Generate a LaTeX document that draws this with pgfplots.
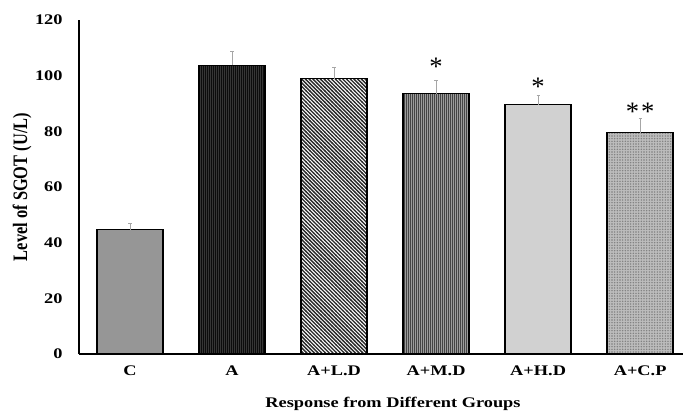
\documentclass[border=0pt]{standalone}
\usepackage{graphicx}
\usepackage{pgfplots}
\pgfplotsset{compat=1.18}
\usepackage{fontspec}
\setmainfont{Liberation Serif}
\usetikzlibrary{patterns}

\newcommand\hs[1]{\scalebox{1.25}[1]{#1}}

\pgfdeclarepatternformonly{fnw}{\pgfqpoint{-1pt}{-1pt}}{\pgfqpoint{3.8pt}{3.8pt}}{\pgfqpoint{2.8pt}{2.8pt}}{%
  \pgfsetlinewidth{1pt}%
  \pgfpathmoveto{\pgfqpoint{-0.2pt}{3pt}}%
  \pgfpathlineto{\pgfqpoint{3pt}{-0.2pt}}%
  \pgfusepath{stroke}}
\pgfdeclarepatternformonly{fvert}{\pgfqpoint{-0.5pt}{-0.5pt}}{\pgfqpoint{2pt}{2pt}}{\pgfqpoint{1.5pt}{1.5pt}}{%
  \pgfsetlinewidth{0.7pt}%
  \pgfpathmoveto{\pgfqpoint{0.4pt}{-0.2pt}}%
  \pgfpathlineto{\pgfqpoint{0.4pt}{1.7pt}}%
  \pgfusepath{stroke}}
\pgfdeclarepatternformonly{fdots}{\pgfqpoint{-0.5pt}{-0.5pt}}{\pgfqpoint{2pt}{2pt}}{\pgfqpoint{1.5pt}{1.5pt}}{%
  \pgfpathcircle{\pgfqpoint{0.75pt}{0.75pt}}{0.4pt}%
  \pgfusepath{fill}}
\pgfdeclarepatternformonly{gdots}{\pgfqpoint{-0.5pt}{-0.5pt}}{\pgfqpoint{2.5pt}{2.5pt}}{\pgfqpoint{2pt}{2pt}}{%
  \pgfpathcircle{\pgfqpoint{1pt}{1pt}}{0.6pt}%
  \pgfusepath{fill}}

\definecolor{cC}{HTML}{A4A4A4}
\definecolor{pC}{HTML}{6A6A6A}
\definecolor{cA}{HTML}{0C0C0C}
\definecolor{pA}{HTML}{363636}
\definecolor{pL}{HTML}{2A2A2A}
\definecolor{cM}{HTML}{9C9C9C}
\definecolor{pM}{HTML}{444444}
\definecolor{cH}{HTML}{E0E0E0}
\definecolor{pH}{HTML}{A0A0A0}
\definecolor{cP}{HTML}{BCBCBC}
\definecolor{pP}{HTML}{7E7E7E}

\begin{document}
\begin{tikzpicture}
\begin{axis}[
  at={(0,0)}, anchor=south west,
  scale only axis, width=453pt, height=250.5pt,
  xmin=-0.5, xmax=5.42, ymin=0, ymax=120,
  ytick={0,20,...,120},
  yticklabel={\hs{\pgfmathprintnumber{\tick}}},
  xtick={0,...,5},
  xticklabels={\hs{C},\hs{A},\hs{A+L.D},\hs{A+M.D},\hs{A+H.D},\hs{A+C.P}},
  axis x line=bottom, axis y line=left,
  axis line style={-, line width=1.3pt, black},
  major tick length=0pt,
  tick label style={font=\bfseries\fontsize{11}{13}\selectfont},
  /pgf/number format/assume math mode=true,
  yticklabel style={xshift=-8.8pt},
  xticklabel style={yshift=-5.5pt},
  xlabel={\hs{\bfseries Response from Different Groups}},
  ylabel={\scalebox{1}[1.25]{\bfseries Level of SGOT (U/L)}},
  xlabel style={font=\fontsize{11}{13}\selectfont, at={(axis description cs:0.5,0)}, anchor=center, xshift=9pt, yshift=-37.5pt},
  ylabel style={font=\fontsize{12.3}{14}\selectfont, at={(axis description cs:0,0.5)}, anchor=center, xshift=0pt, yshift=42.75pt},
  clip=false,
]
\addplot[ybar, bar width=49.5pt, bar shift=0pt, draw=black, line width=1pt, preaction={fill=cC}, pattern=fdots, pattern color=pC] coordinates {(0,44.7)};
\addplot[ybar, bar width=49.5pt, bar shift=0pt, draw=black, line width=1pt, preaction={fill=cA}, pattern=fvert, pattern color=pA] coordinates {(1,103.7)};
\addplot[ybar, bar width=49.5pt, bar shift=0pt, draw=black, line width=1pt, preaction={fill=white}, pattern=fnw, pattern color=pL] coordinates {(2,98.9)};
\addplot[ybar, bar width=49.5pt, bar shift=0pt, draw=black, line width=1pt, preaction={fill=cM}, pattern=fvert, pattern color=pM] coordinates {(3,93.5)};
\addplot[ybar, bar width=49.5pt, bar shift=0pt, draw=black, line width=1pt, preaction={fill=cH}, pattern=fdots, pattern color=pH] coordinates {(4,89.6)};
\addplot[ybar, bar width=49.5pt, bar shift=0pt, draw=black, line width=1pt, preaction={fill=cP}, pattern=gdots, pattern color=pP] coordinates {(5,79.5)};
\addplot[draw=none, mark=none,
  error bars/.cd, y dir=plus, y explicit,
  error bar style={draw=black!35, line width=0.5pt},
  error mark options={rotate=90, mark size=1.2pt, draw=black!35, line width=0.5pt}]
  coordinates {(0,44.7) +- (0,2.3) (1,103.7) +- (0,4.9) (2,98.9) +- (0,4.1) (3,93.5) +- (0,4.9) (4,89.6) +- (0,3.5) (5,79.5) +- (0,5.0)};
\node[anchor=north, inner sep=0pt, font=\fontsize{20}{20}\selectfont] at (axis cs:3,106.4) {*};
\node[anchor=north, inner sep=0pt, font=\fontsize{20}{20}\selectfont] at (axis cs:4,99.2) {*};
\node[anchor=north, inner sep=0pt, font=\fontsize{20}{20}\selectfont] at (axis cs:5,90.2) {*\kern1.5pt*};
\end{axis}
\pgfresetboundingbox
\path (-59.25pt,-43.5pt) rectangle (453pt,265.5pt);
\end{tikzpicture}
\end{document}
